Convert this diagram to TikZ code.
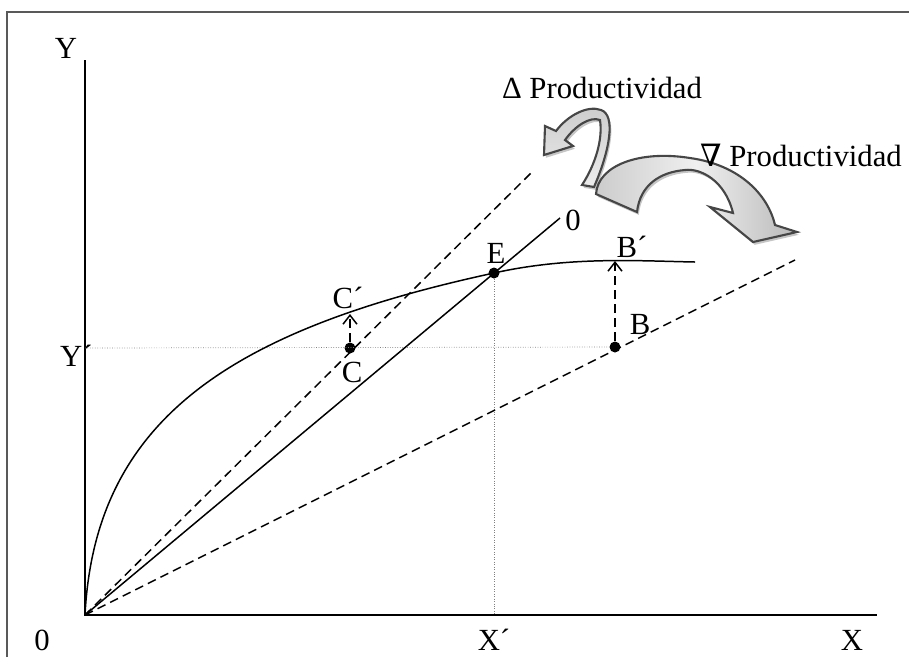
\documentclass[tikz,border=0pt]{standalone}
\usepackage{fontspec}
\setmainfont{Liberation Serif}
\newfontfamily\nablafont{DejaVu Serif}
\usepackage{tikz}
\usetikzlibrary{arrows.meta, shadows}

\begin{document}
\begin{tikzpicture}[x=0.02cm, y=-0.02cm,
    every node/.style={font=\fontsize{17.5}{19}\selectfont, inner sep=1pt},
    >={Straight Barb[length=1.8mm, width=2.8mm]},
    axis/.style={line width=1.1pt},
    curve/.style={line width=0.85pt},
    guide/.style={gray, line width=0.4pt, densely dotted},
    dashline/.style={line width=0.85pt, dash pattern=on 5pt off 3pt},
    dot/.style={circle, fill, inner sep=0pt, minimum size=2.2mm},
    bigarrow/.style={draw=gray!55!black, line width=1.2pt,
      drop shadow={shadow xshift=1pt, shadow yshift=-1.6pt, fill=gray!45, opacity=1}}]
  \useasboundingbox (0,0) rectangle (909,657);
  \draw[line width=1.6pt, gray!70!black] (7,657) |- (909,12);

  % axes and marks
  \coordinate (O) at (85,615);
  \coordinate (Ytop) at (85,60);
  \coordinate (Xend) at (877,615);
  \coordinate (Ym) at (85,348);
  \coordinate (Xm) at (494,615);
  \draw[axis] (Ytop) -- (O) -- (Xend);
  \node (lblY) at (66,48) {Y};
  \node[anchor=west] (lblYp) at (58,356) {Y´};
  \node (lblO) at (42,640) {0};
  \node (lblXp) at (494,640) {X´};
  \node (lblX) at (852,640) {X};

  % points
  \node[dot] (E) at (494,273) {};
  \node[dot] (C) at (350,348) {};
  \node[dot] (B) at (615,347) {};
  \coordinate (Cp) at (350,314);
  \coordinate (Bp) at (615,261);
  \coordinate (Rend) at (560,218);
  \coordinate (Uend) at (532,172);
  \coordinate (Lend) at (795,260);

  % guides
  \draw[guide] (Ym) -- (B);
  \draw[guide] (E) -- (Xm);

  % rays
  \draw[curve] (O) -- (Rend);
  \draw[dashline] (O) -- (Uend);
  \draw[dashline] (O) -- (Lend);

  % production curve
  \draw[curve] (O) .. controls (95,420) and (230,330) .. (E.center)
    .. controls (570,256) and (640,261) .. (695,262);

  % shifts
  \draw[dashline, ->] (C) -- (Cp);
  \draw[dashline, ->] (B) -- (Bp);

  \node (lblE) at (496,253) {E};
  \node (lblCp) at (348,298) {C´};
  \node (lblC) at (352,372) {C};
  \node (lblBp) at (632,247) {B´};
  \node (lblB) at (640,324) {B};
  \node (lbl0) at (573,220) {0};

  % curved block arrows
  \shade[bigarrow, top color=gray!40, bottom color=gray!15]
    (582,185) -- (594,187) .. controls (610,150) and (616,115) .. (601,110)
    .. controls (588,105) and (568,115) .. (556,131) -- (545,126) -- (544,155)
    -- (573,146) -- (565,140) .. controls (575,126) and (590,116) .. (600,120)
    .. controls (603,140) and (595,165) .. cycle;
  \shade[bigarrow, left color=gray!40, right color=gray!55, middle color=gray!12]
    (596,194) .. controls (598,165) and (640,150) .. (690,158)
    .. controls (740,165) and (768,195) .. (775,225) -- (797,232) -- (753,242)
    -- (710,207) -- (733,213) .. controls (725,180) and (700,168) .. (685,170)
    .. controls (660,172) and (640,185) .. (637,212) -- cycle;

  \node (lblUp) at (602,88) {Δ Productividad};
  \node (lblDown) at (801,155) {{\nablafont\itshape ∇} Productividad};
\end{tikzpicture}
\end{document}
